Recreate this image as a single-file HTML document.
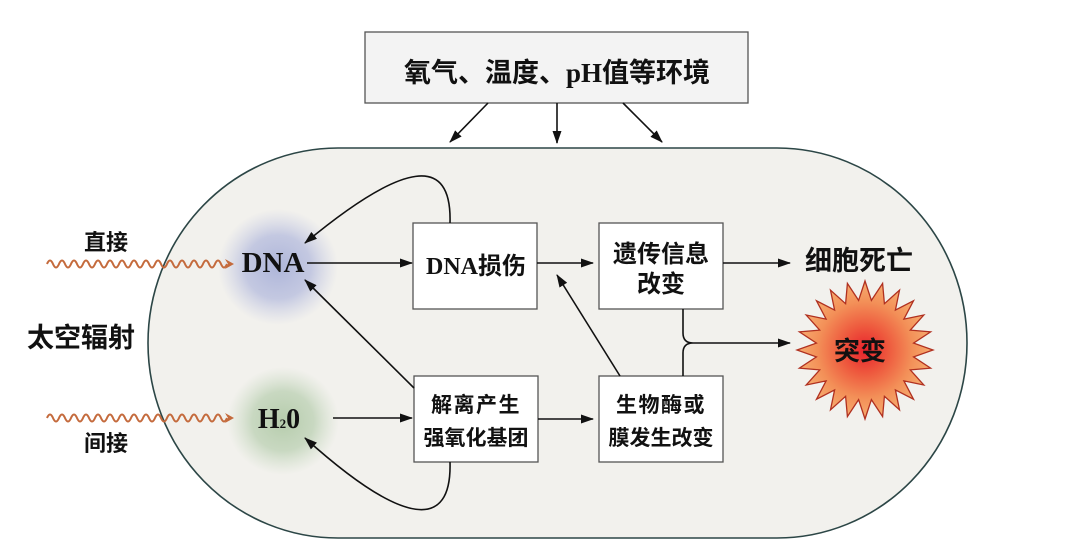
<!DOCTYPE html>
<html><head><meta charset="utf-8"><style>
html,body{margin:0;padding:0;background:#fff;}
svg{display:block;}
.cjk{font-family:"Liberation Sans","Noto Sans CJK SC",sans-serif;font-weight:bold;fill:#111;}
.ser{font-family:"Liberation Serif","Noto Serif CJK SC",serif;font-weight:bold;fill:#111;}
</style></head><body>
<svg width="1071" height="546" viewBox="0 0 1071 546" xmlns="http://www.w3.org/2000/svg">
<defs>
<marker id="ar" markerUnits="userSpaceOnUse" markerWidth="14" markerHeight="10" refX="12" refY="5" orient="auto">
<path d="M0,0.5 L13,5 L0,9.5 Z" fill="#111"/>
</marker>
<radialGradient id="gb" cx="0.5" cy="0.5" r="0.5">
<stop offset="0" stop-color="#aab2d8" stop-opacity="0.95"/>
<stop offset="0.55" stop-color="#b8bede" stop-opacity="0.8"/>
<stop offset="1" stop-color="#c8cce4" stop-opacity="0"/>
</radialGradient>
<radialGradient id="gg" cx="0.5" cy="0.5" r="0.5">
<stop offset="0" stop-color="#b2caa8" stop-opacity="0.95"/>
<stop offset="0.55" stop-color="#bed2b6" stop-opacity="0.8"/>
<stop offset="1" stop-color="#cddcc6" stop-opacity="0"/>
</radialGradient>
<radialGradient id="gs" cx="0.5" cy="0.5" r="0.5">
<stop offset="0" stop-color="#e8222c"/>
<stop offset="0.35" stop-color="#ee5a3e"/>
<stop offset="0.7" stop-color="#f39058"/>
<stop offset="1" stop-color="#f6ac70"/>
</radialGradient>
</defs>

<!-- top box -->
<rect x="365" y="32" width="383" height="71" fill="#f3f3f3" stroke="#555" stroke-width="1.3"/>
<text x="557" y="82" text-anchor="middle" class="cjk" font-size="27">氧气、温度、<tspan class="ser">pH</tspan>值等环境</text>
<line x1="488" y1="103" x2="450" y2="142" stroke="#111" stroke-width="1.6" marker-end="url(#ar)"/>
<line x1="557" y1="103" x2="557" y2="143" stroke="#111" stroke-width="1.6" marker-end="url(#ar)"/>
<line x1="623" y1="103" x2="662" y2="142" stroke="#111" stroke-width="1.6" marker-end="url(#ar)"/>

<!-- cell -->
<rect x="148" y="148" width="819" height="390" rx="190" ry="195" fill="#f2f1ed" stroke="#2c4646" stroke-width="1.6"/>

<!-- blobs -->
<ellipse cx="278" cy="267" rx="60" ry="58" fill="url(#gb)"/>
<ellipse cx="283" cy="421" rx="56" ry="54" fill="url(#gg)"/>

<!-- wavy lines -->
<path d="M47,264 q3,-7 6,0 t6,0 t6,0 t6,0 t6,0 t6,0 t6,0 t6,0 t6,0 t6,0 t6,0 t6,0 t6,0 t6,0 t6,0 t6,0 t6,0 t6,0 t6,0 t6,0 t6,0 t6,0 t6,0 t6,0 t6,0 t6,0 t6,0 t6,0 t6,0 t6,0" fill="none" stroke="#c46a3c" stroke-width="2"/>
<path d="M225,259 L234,264 L225,269 L228,264 Z" fill="#c46a3c"/>
<path d="M47,418 q3,-7 6,0 t6,0 t6,0 t6,0 t6,0 t6,0 t6,0 t6,0 t6,0 t6,0 t6,0 t6,0 t6,0 t6,0 t6,0 t6,0 t6,0 t6,0 t6,0 t6,0 t6,0 t6,0 t6,0 t6,0 t6,0 t6,0 t6,0 t6,0 t6,0 t6,0" fill="none" stroke="#c46a3c" stroke-width="2"/>
<path d="M225,413 L234,418 L225,423 L228,418 Z" fill="#c46a3c"/>

<!-- left labels -->
<text x="106" y="250" text-anchor="middle" class="cjk" font-size="22">直接</text>
<text x="81" y="347" text-anchor="middle" class="cjk" font-size="27">太空辐射</text>
<text x="106" y="451" text-anchor="middle" class="cjk" font-size="22">间接</text>

<!-- DNA / H2O -->
<text x="273" y="272" text-anchor="middle" class="ser" font-size="29">DNA</text>
<text x="279" y="428" text-anchor="middle" class="ser" font-size="28">H<tspan font-size="13" dy="0">2</tspan>0</text>

<!-- boxes -->
<rect x="413" y="223" width="124" height="86" fill="#fff" stroke="#555" stroke-width="1.3"/>
<text x="476" y="274" text-anchor="middle" class="cjk" font-size="24"><tspan class="ser">DNA</tspan>损伤</text>

<rect x="599" y="223" width="124" height="86" fill="#fff" stroke="#555" stroke-width="1.3"/>
<text x="661" y="262" text-anchor="middle" class="cjk" font-size="24">遗传信息</text>
<text x="661" y="292" text-anchor="middle" class="cjk" font-size="24">改变</text>

<rect x="414" y="376" width="124" height="86" fill="#fff" stroke="#555" stroke-width="1.3"/>
<text x="476" y="412" text-anchor="middle" class="cjk" font-size="21" letter-spacing="1.5">解离产生</text>
<text x="476" y="445" text-anchor="middle" class="cjk" font-size="21">强氧化基团</text>

<rect x="599" y="376" width="124" height="86" fill="#fff" stroke="#555" stroke-width="1.3"/>
<text x="661" y="412" text-anchor="middle" class="cjk" font-size="21" letter-spacing="1.5">生物酶或</text>
<text x="661" y="445" text-anchor="middle" class="cjk" font-size="21">膜发生改变</text>

<!-- connectors -->
<line x1="307" y1="263" x2="412" y2="263" stroke="#111" stroke-width="1.6" marker-end="url(#ar)"/>
<line x1="333" y1="418" x2="412" y2="418" stroke="#111" stroke-width="1.6" marker-end="url(#ar)"/>
<line x1="537" y1="263" x2="593" y2="263" stroke="#111" stroke-width="1.6" marker-end="url(#ar)"/>
<line x1="538" y1="419" x2="593" y2="419" stroke="#111" stroke-width="1.6" marker-end="url(#ar)"/>
<line x1="723" y1="263" x2="790" y2="263" stroke="#111" stroke-width="1.6" marker-end="url(#ar)"/>
<line x1="414" y1="388" x2="305" y2="280" stroke="#111" stroke-width="1.6" marker-end="url(#ar)"/>
<line x1="620" y1="376" x2="557" y2="275" stroke="#111" stroke-width="1.6" marker-end="url(#ar)"/>
<path d="M450,223 C452,155 405,160 305,243" fill="none" stroke="#111" stroke-width="1.6" marker-end="url(#ar)"/>
<path d="M450,462 C452,530 405,528 305,438" fill="none" stroke="#111" stroke-width="1.6" marker-end="url(#ar)"/>
<path d="M683,309 L683,333 Q683,343 693,343 M683,376 L683,353 Q683,343 693,343 L790,343" fill="none" stroke="#111" stroke-width="1.6" marker-end="url(#ar)"/>

<!-- results -->
<text x="859" y="270" text-anchor="middle" class="cjk" font-size="27">细胞死亡</text>
<polygon fill="url(#gs)" stroke="#b03020" stroke-width="1.3" points="865.0,281.0 871.4,300.4 882.6,283.4 884.4,303.7 899.5,290.2 895.4,310.1 913.5,300.8 903.9,319.1 923.8,315.0 910.3,330.1 930.6,331.9 913.6,343.1 933.0,350.0 913.6,356.9 930.6,368.1 910.3,369.9 923.8,385.0 903.9,380.9 913.5,399.2 895.4,389.9 899.5,409.8 884.4,396.3 882.6,416.6 871.4,399.6 865.0,419.0 858.6,399.6 847.4,416.6 845.6,396.3 830.5,409.8 834.6,389.9 816.5,399.2 826.1,380.9 806.2,385.0 819.7,369.9 799.4,368.1 816.4,356.9 797.0,350.0 816.4,343.1 799.4,331.9 819.7,330.1 806.2,315.0 826.1,319.1 816.5,300.8 834.6,310.1 830.5,290.2 845.6,303.7 847.4,283.4 858.6,300.4"/>
<text x="860" y="360" text-anchor="middle" class="cjk" font-size="26">突变</text>
</svg>
</body></html>
